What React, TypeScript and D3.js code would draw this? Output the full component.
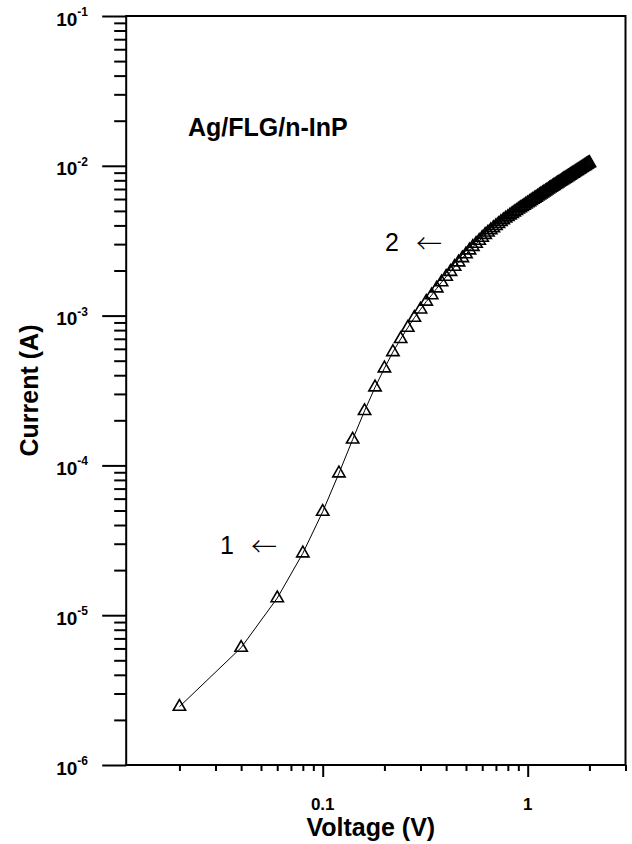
import React, { Component } from "react";
import * as d3 from "d3";

// I-V data of the Ag/FLG/n-InP diode
const voltage = [
  0.02, 0.04, 0.06, 0.08, 0.1, 0.12, 0.14, 0.16, 0.18, 0.2,
  0.22, 0.24, 0.26, 0.28, 0.3, 0.32, 0.34, 0.36, 0.38, 0.4,
  0.42, 0.44, 0.46, 0.48, 0.5, 0.52, 0.54, 0.56, 0.58, 0.6,
  0.62, 0.64, 0.66, 0.68, 0.7, 0.72, 0.74, 0.76, 0.78, 0.8,
  0.82, 0.84, 0.86, 0.88, 0.9, 0.92, 0.94, 0.96, 0.98, 1.0,
  1.02, 1.04, 1.06, 1.08, 1.1, 1.12, 1.14, 1.16, 1.18, 1.2,
  1.22, 1.24, 1.26, 1.28, 1.3, 1.32, 1.34, 1.36, 1.38, 1.4,
  1.42, 1.44, 1.46, 1.48, 1.5, 1.52, 1.54, 1.56, 1.58, 1.6,
  1.62, 1.64, 1.66, 1.68, 1.7, 1.72, 1.74, 1.76, 1.78, 1.8,
  1.82, 1.84, 1.86, 1.88, 1.9, 1.92, 1.94, 1.96, 1.98, 2.0,
];

const current = [
  2.45e-6, 6.07e-6, 1.3e-5, 2.59e-5, 4.91e-5, 8.85e-5, 1.49e-4, 2.31e-4, 3.32e-4, 4.45e-4,
  5.71e-4, 6.98e-4, 8.3e-4, 9.68e-4, 1.1e-3, 1.24e-3, 1.37e-3, 1.52e-3, 1.67e-3, 1.82e-3,
  1.96e-3, 2.12e-3, 2.27e-3, 2.42e-3, 2.57e-3, 2.73e-3, 2.88e-3, 3.02e-3, 3.16e-3, 3.31e-3,
  3.46e-3, 3.59e-3, 3.72e-3, 3.84e-3, 3.97e-3, 4.09e-3, 4.22e-3, 4.34e-3, 4.45e-3, 4.56e-3,
  4.67e-3, 4.78e-3, 4.89e-3, 5.0e-3, 5.11e-3, 5.22e-3, 5.32e-3, 5.42e-3, 5.53e-3, 5.63e-3,
  5.73e-3, 5.84e-3, 5.94e-3, 6.04e-3, 6.14e-3, 6.24e-3, 6.35e-3, 6.45e-3, 6.55e-3, 6.65e-3,
  6.75e-3, 6.85e-3, 6.96e-3, 7.06e-3, 7.16e-3, 7.26e-3, 7.35e-3, 7.45e-3, 7.55e-3, 7.64e-3,
  7.74e-3, 7.84e-3, 7.93e-3, 8.03e-3, 8.12e-3, 8.22e-3, 8.31e-3, 8.41e-3, 8.5e-3, 8.6e-3,
  8.69e-3, 8.79e-3, 8.88e-3, 8.97e-3, 9.07e-3, 9.16e-3, 9.26e-3, 9.35e-3, 9.44e-3, 9.54e-3,
  9.63e-3, 9.72e-3, 9.82e-3, 9.91e-3, 1.0e-2, 1.009e-2, 1.019e-2, 1.028e-2, 1.037e-2, 1.046e-2,
];

const xTickValues = [0.1, 1];
const xTickLabels = ["0.1", "1"];
const yTickValues = [1e-6, 1e-5, 1e-4, 1e-3, 1e-2, 1e-1];
const yTickExponents = ["-6", "-5", "-4", "-3", "-2", "-1"];

const FONT = "'Liberation Sans', Arial, Helvetica, sans-serif";
const ARROW_FONT = "'Noto Sans CJK SC', 'Noto Sans CJK JP', 'DejaVu Sans', sans-serif";

class App extends Component {
  svgRef = React.createRef<SVGSVGElement>();

  componentDidMount() {
    this.drawPlot();
  }

  componentDidUpdate() {
    this.drawPlot();
  }

  drawPlot() {
    const W = 632,
      H = 844;
    const left = 126.2,
      right = 625.5,
      top = 16,
      bottom = 765;

    const svg = d3.select(this.svgRef.current);
    svg.selectAll("*").remove();
    svg.attr("width", W).attr("height", H);

    const x = d3.scaleLog().domain([0.011, 3]).range([left, right]);
    const y = d3.scaleLog().domain([1e-6, 1e-1]).range([bottom, top]);

    const isMajor = (t, majors) => majors.some((m) => Math.abs(t / m - 1) < 1e-6);
    const xMinor = x.ticks().filter((t) => !isMajor(t, xTickValues));
    const yMinor = y.ticks().filter((t) => !isMajor(t, yTickValues));

    // bottom axis ticks
    const gx = svg.append("g").attr("transform", `translate(0,${bottom})`);
    gx.append("g")
      .call(d3.axisBottom(x).tickValues(xMinor).tickSize(6).tickSizeOuter(0).tickFormat(() => ""));
    gx.append("g")
      .call(d3.axisBottom(x).tickValues(xTickValues).tickSize(12).tickSizeOuter(0).tickFormat(() => ""));
    gx.selectAll(".domain").remove();
    gx.selectAll("line").attr("stroke", "#000").attr("stroke-width", 2);

    // left axis ticks
    const gy = svg.append("g").attr("transform", `translate(${left},0)`);
    gy.append("g")
      .call(d3.axisLeft(y).tickValues(yMinor).tickSize(12).tickSizeOuter(0).tickFormat(() => ""));
    gy.append("g")
      .call(d3.axisLeft(y).tickValues(yTickValues).tickSize(24).tickSizeOuter(0).tickFormat(() => ""));
    gy.selectAll(".domain").remove();
    gy.selectAll("line").attr("stroke", "#000").attr("stroke-width", 2);

    // frame
    svg
      .append("rect")
      .attr("x", left)
      .attr("y", top)
      .attr("width", right - left)
      .attr("height", bottom - top)
      .attr("fill", "none")
      .attr("stroke", "#000")
      .attr("stroke-width", 2);

    // x tick labels
    svg
      .selectAll(".xlab")
      .data(xTickValues)
      .join("text")
      .attr("x", (d) => x(d))
      .attr("y", 810)
      .attr("text-anchor", "middle")
      .style("font-family", FONT)
      .style("font-weight", "bold")
      .style("font-size", "17px")
      .text((d, i) => xTickLabels[i]);

    // y tick labels: 10^n
    const yl = svg
      .selectAll(".ylab")
      .data(yTickValues)
      .join("text")
      .attr("x", 88)
      .attr("y", (d) => y(d) + 9.5)
      .attr("text-anchor", "end")
      .style("font-family", FONT)
      .style("font-weight", "bold")
      .style("font-size", "19px");
    yl.append("tspan").text("10");
    yl.append("tspan")
      .attr("dy", -9.5)
      .style("font-size", "12px")
      .text((d, i) => yTickExponents[i]);

    // axis titles
    svg
      .append("text")
      .attr("x", (left + right) / 2 - 5)
      .attr("y", 836)
      .attr("text-anchor", "middle")
      .style("font-family", FONT)
      .style("font-weight", "bold")
      .style("font-size", "25px")
      .text("Voltage (V)");

    svg
      .append("text")
      .attr("transform", `translate(38,${(top + bottom) / 2}) rotate(-90)`)
      .attr("text-anchor", "middle")
      .style("font-family", FONT)
      .style("font-weight", "bold")
      .style("font-size", "25px")
      .text("Current (A)");

    // sample label
    svg
      .append("text")
      .attr("x", 188)
      .attr("y", 136)
      .style("font-family", FONT)
      .style("font-weight", "bold")
      .style("font-size", "25px")
      .text("Ag/FLG/n-InP");

    // data line + open triangles
    const pts = voltage.map((v, i) => [v, current[i]]);
    const line = d3
      .line()
      .x((d) => x(d[0]))
      .y((d) => y(d[1]));

    svg
      .append("path")
      .datum(pts)
      .attr("d", line)
      .attr("fill", "none")
      .attr("stroke", "#000")
      .attr("stroke-width", 1);

    svg
      .selectAll(".tri")
      .data(pts)
      .join("path")
      .attr("transform", (d) => `translate(${x(d[0])},${y(d[1])})`)
      .attr("d", d3.symbol(d3.symbolTriangle, 66)())
      .attr("fill", "none")
      .attr("stroke", "#000")
      .attr("stroke-width", 1.6);

    // region markers
    const marks = [
      { n: "1", x: 220, ax: 251, y: 554 },
      { n: "2", x: 385, ax: 416, y: 251 },
    ];
    marks.forEach((m) => {
      svg
        .append("text")
        .attr("x", m.x)
        .attr("y", m.y)
        .style("font-family", FONT)
        .style("font-size", "25px")
        .text(m.n);
      svg
        .append("text")
        .attr("x", m.ax)
        .attr("y", m.y + 2)
        .style("font-family", ARROW_FONT)
        .style("font-weight", "300")
        .style("font-size", "26px")
        .text("\u2190");
    });
  }

  render() {
    return (
      <svg
        ref={this.svgRef}
        style={{ position: "absolute", left: 0, top: 0, background: "#fff" }}
      ></svg>
    );
  }
}

export default App;
